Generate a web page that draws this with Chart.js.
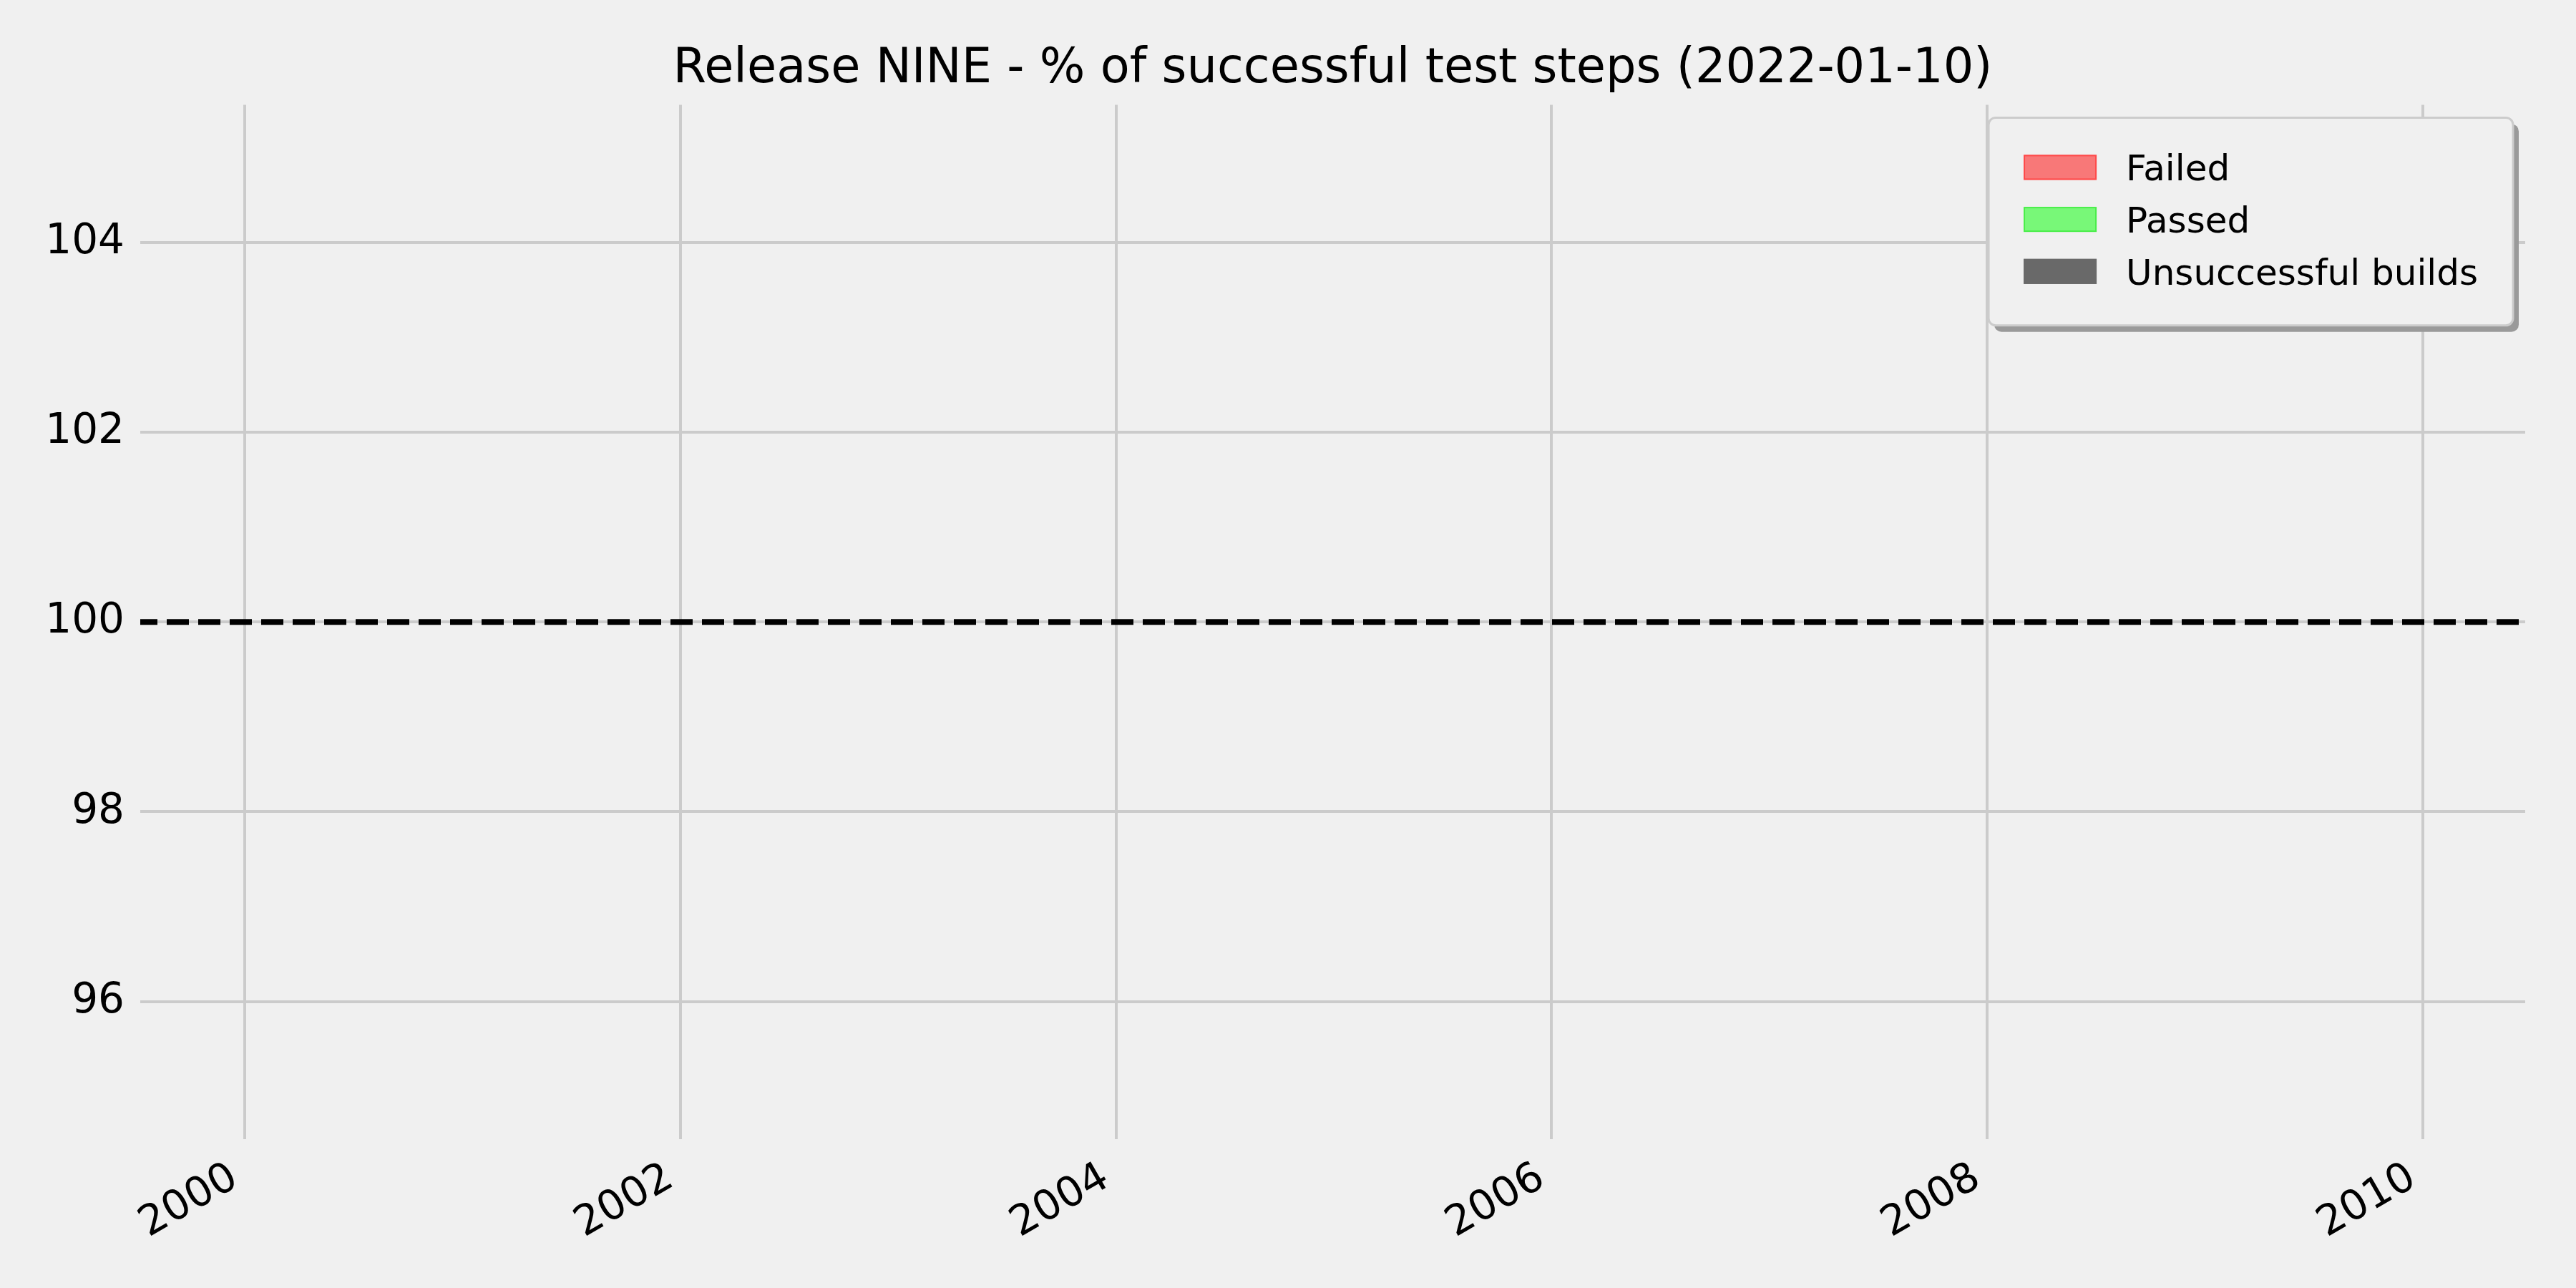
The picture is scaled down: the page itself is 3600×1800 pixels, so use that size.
<!DOCTYPE html>
<html>
<head>
<meta charset="utf-8">
<title>Release NINE - successful test steps</title>
<script src="https://cdn.jsdelivr.net/npm/chart.js@4.4.1/dist/chart.umd.min.js"></script>
<style>
  html, body { margin: 0; padding: 0; background: #f0f0f0; }
  #wrap { width: 3600px; height: 1800px; }
</style>
</head>
<body>
<div id="wrap"><canvas id="chart" width="3600" height="1800"></canvas></div>
<script>
const releaseName = 'NINE'
const reportDate = '2022-01-10'

// build history for this release - nothing recorded yet
const buildDates = []
const failedSteps = []
const passedSteps = []
const unsuccessfulBuilds = []

const targetPct = 100
const xRange = [1999.52, 2010.47]
const yRange = [94.55, 105.45]
const xTicks = [2000, 2002, 2004, 2006, 2008, 2010]
const yTicks = [96, 98, 100, 102, 104]

const FONT = '"DejaVu Sans", "Liberation Sans", sans-serif'

const toPoints = (values) => buildDates.map((d, i) => ({ x: d, y: values[i] }))

const bgPlugin = {
  id: 'bg',
  beforeDraw(chart) {
    const { ctx, width, height } = chart
    ctx.save()
    ctx.fillStyle = '#f0f0f0'
    ctx.fillRect(0, 0, width, height)
    ctx.restore()
  }
}

// matplotlib-style legend box drawn inside the plot, top right
const legendBox = {
  id: 'legendBox',
  afterDraw(chart) {
    const { ctx, chartArea } = chart
    const items = chart.data.datasets.filter(d => d.label)
    const fontSize = 50
    ctx.save()
    ctx.font = `${fontSize}px ${FONT}`
    const textW = Math.max(...items.map(d => ctx.measureText(d.label).width))
    const padL = 49, patchW = 102, patchH = 35, gap = 41, padR = 49
    const rowH = 72.7, padT = 52, padB = 58
    const w = padL + patchW + gap + textW + padR
    const h = padT + rowH * (items.length - 1) + patchH + padB
    const x = chartArea.right - 17 - w
    const y = chartArea.top + 18

    ctx.fillStyle = '#9a9a9a'
    ctx.beginPath()
    ctx.roundRect(x + 8, y + 9, w, h, 10)
    ctx.fill()

    ctx.fillStyle = '#f0f0f0'
    ctx.strokeStyle = '#cccccc'
    ctx.lineWidth = 3
    ctx.beginPath()
    ctx.roundRect(x, y, w, h, 10)
    ctx.fill()
    ctx.stroke()

    items.forEach((d, i) => {
      const py = y + padT + rowH * i
      ctx.fillStyle = d.backgroundColor
      ctx.fillRect(x + padL, py, patchW, patchH)
      ctx.strokeStyle = d.borderColor
      ctx.lineWidth = 2
      ctx.strokeRect(x + padL + 1, py + 1, patchW - 2, patchH - 2)
      ctx.fillStyle = '#000'
      ctx.textBaseline = 'alphabetic'
      ctx.fillText(d.label, x + padL + patchW + gap, py + patchH / 2 + fontSize * 0.3645)
    })
    ctx.restore()
  }
}

const tickFont = { family: FONT, size: 58 }
const gridOpts = { color: '#cbcbcb', lineWidth: 4, drawTicks: false }

new Chart(document.getElementById('chart'), {
  type: 'line',
  data: {
    datasets: [
      {
        label: 'Failed',
        data: toPoints(failedSteps),
        backgroundColor: 'rgba(255,0,0,0.5)',
        borderColor: '#ff4a4a',
        fill: 'origin',
        pointRadius: 0
      },
      {
        label: 'Passed',
        data: toPoints(passedSteps),
        backgroundColor: 'rgba(0,255,0,0.5)',
        borderColor: '#4aee4a',
        fill: 'origin',
        pointRadius: 0
      },
      {
        label: 'Unsuccessful builds',
        data: toPoints(unsuccessfulBuilds),
        backgroundColor: '#696969',
        borderColor: '#696969',
        fill: 'origin',
        pointRadius: 0
      },
      {
        label: '',
        data: xRange.map(x => ({ x, y: targetPct })),
        borderColor: '#000',
        borderWidth: 8,
        borderDash: [31, 13],
        borderDashOffset: 7,
        pointRadius: 0,
        fill: false
      }
    ]
  },
  options: {
    responsive: false,
    animation: false,
    devicePixelRatio: 1,
    layout: { padding: { left: 0, right: 71, top: 0, bottom: 0 } },
    plugins: {
      legend: { display: false },
      tooltip: { enabled: false },
      title: {
        display: true,
        fullSize: false,
        text: `Release ${releaseName} - % of successful test steps (${reportDate})`,
        color: '#000',
        font: { family: FONT, size: 67, weight: 'normal' },
        padding: { top: 57, bottom: 9 }
      }
    },
    scales: {
      x: {
        type: 'linear',
        min: xRange[0],
        max: xRange[1],
        afterBuildTicks: s => { s.ticks = xTicks.map(v => ({ value: v })) },
        afterFit: s => { s.height = 208 },
        grid: gridOpts,
        border: { display: false },
        ticks: {
          color: '#000',
          font: tickFont,
          minRotation: 30,
          maxRotation: 30,
          autoSkip: false,
          padding: 20,
          labelOffset: -14,
          callback: v => String(v)
        }
      },
      y: {
        type: 'linear',
        min: yRange[0],
        max: yRange[1],
        afterBuildTicks: s => { s.ticks = yTicks.map(v => ({ value: v })) },
        afterFit: s => { s.width = 196 },
        grid: gridOpts,
        border: { display: false },
        ticks: {
          color: '#000',
          font: tickFont,
          padding: 22,
          callback: v => String(v)
        }
      }
    }
  },
  plugins: [bgPlugin, legendBox]
})
</script>
</body>
</html>
